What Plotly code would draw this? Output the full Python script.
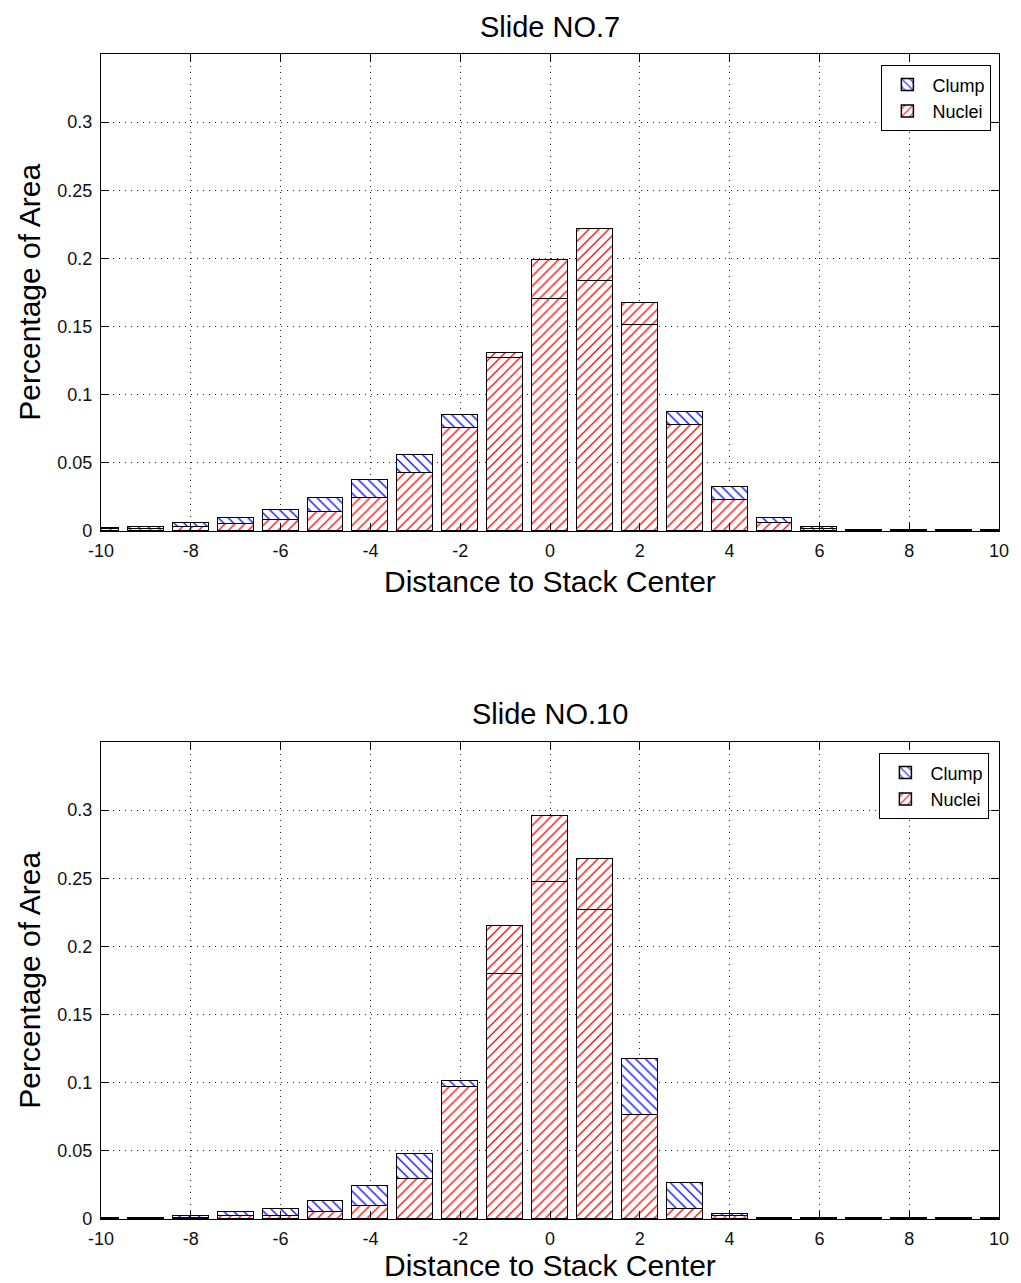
import plotly.graph_objects as go

# Distance bins (stack positions)
distance = list(range(-10, 11))

# Slide NO.7 — area fractions per bin
nuclei_7 = [0.0012, 0.0018, 0.0027, 0.0049, 0.0080, 0.0141, 0.0239, 0.0429, 0.0756, 0.1270,
            0.1705, 0.1837, 0.1510, 0.0776, 0.0224, 0.0061, 0.0018, 0.0004, 0.0003, 0.0003, 0.0002]
clump_7 = [0.0012, 0.0014, 0.0034, 0.0046, 0.0074, 0.0098, 0.0134, 0.0132, 0.0095, 0.0037,
           0.0285, 0.0380, 0.0166, 0.0100, 0.0098, 0.0034, 0.0014, 0.0004, 0.0003, 0.0003, 0.0003]

# Slide NO.10 — area fractions per bin
nuclei_10 = [0.0003, 0.0004, 0.0010, 0.0020, 0.0024, 0.0051, 0.0095, 0.0290, 0.0970, 0.1800,
             0.2473, 0.2268, 0.0766, 0.0071, 0.0020, 0.0003, 0.0003, 0.0003, 0.0003, 0.0003, 0.0003]
clump_10 = [0.0002, 0.0003, 0.0012, 0.0031, 0.0049, 0.0081, 0.0146, 0.0190, 0.0040, 0.0349,
            0.0481, 0.0376, 0.0410, 0.0190, 0.0017, 0.0002, 0.0002, 0.0002, 0.0002, 0.0002, 0.0002]

# Bins whose upper segment is rendered with the nuclei hatch
nuclei_hatched_top_7 = [-1, 0, 1, 2]
nuclei_hatched_top_10 = [-1, 0, 1]

x_ticks = list(range(-10, 11, 2))
x_tick_text = [str(v) for v in x_ticks]  # plain hyphen minus signs
y_ticks = [0, 0.05, 0.1, 0.15, 0.2, 0.25, 0.3]
y_tick_text = ["0", "0.05", "0.1", "0.15", "0.2", "0.25", "0.3"]

RED = "#ff0000"
BLUE = "#0000ff"
FONT = "Liberation Sans, Arial, sans-serif"

W, H = 1021, 1283
L, R, T, B = 101, 13, 54, 64
PH = H - T - B  # plot-area height in px


def py(p):
    return (H - B - p) / PH


def px(q):
    return (q - L) / (W - L - R)


HATCH_SIZE = 7
HATCH_SOLIDITY = 0.18

fig = go.Figure()

panels = [
    (nuclei_7, clump_7, nuclei_hatched_top_7, "x", "y", "legend"),
    (nuclei_10, clump_10, nuclei_hatched_top_10, "x2", "y2", "legend2"),
]

for nuc, clu, red_top, xa, ya, lg in panels:
    top_shapes = ["/" if d in red_top else "\\" for d in distance]
    top_colors = [RED if d in red_top else BLUE for d in distance]
    fig.add_trace(go.Bar(
        x=distance, y=nuc, name="Nuclei", width=0.8,
        marker=dict(color="white", line=dict(color="black", width=1.5),
                    pattern=dict(shape="/", fgcolor=RED, bgcolor="white", fgopacity=1,
                                 size=HATCH_SIZE, solidity=HATCH_SOLIDITY)),
        xaxis=xa, yaxis=ya, legend=lg,
    ))
    fig.add_trace(go.Bar(
        x=distance, y=clu, name="Clump", width=0.8,
        marker=dict(color="white", line=dict(color="black", width=1.5),
                    pattern=dict(shape=top_shapes, fgcolor=top_colors, bgcolor="white",
                                 fgopacity=1, size=HATCH_SIZE, solidity=HATCH_SOLIDITY)),
        xaxis=xa, yaxis=ya, legend=lg,
    ))

axis_common = dict(
    showline=True, linecolor="black", linewidth=1.3, mirror="ticks",
    ticks="inside", ticklen=8, tickcolor="black", tickwidth=1.3,
    showgrid=True, gridcolor="#222222", griddash="1px,5px", gridwidth=1.2,
    zeroline=False, tickfont=dict(family=FONT, size=18, color="#111111"),
)

top_dom = [py(531), 1.0]
bot_dom = [0.0, py(742)]

legend_common = dict(xanchor="right", yanchor="top", bgcolor="white",
                     bordercolor="black", borderwidth=1.3, traceorder="reversed",
                     font=dict(family=FONT, size=18, color="black"), itemwidth=40)

fig.update_layout(
    width=W, height=H,
    margin=dict(l=L, r=R, t=T, b=B),
    paper_bgcolor="white", plot_bgcolor="white",
    barmode="stack", bargap=0,
    showlegend=True,
    xaxis=dict(domain=[0, 1], range=[-10, 10], tickvals=x_ticks, ticktext=x_tick_text,
               anchor="y", ticklabelstandoff=3, **axis_common),
    yaxis=dict(domain=top_dom, range=[0, 0.35], tickvals=y_ticks, ticktext=y_tick_text,
               anchor="x", ticklabelstandoff=4, **axis_common),
    xaxis2=dict(domain=[0, 1], range=[-10, 10], tickvals=x_ticks, ticktext=x_tick_text,
                anchor="y2", ticklabelstandoff=3, **axis_common),
    yaxis2=dict(domain=bot_dom, range=[0, 0.35], tickvals=y_ticks, ticktext=y_tick_text,
                anchor="x2", ticklabelstandoff=4, **axis_common),
    legend=dict(x=px(1000), y=py(65), **legend_common),
    legend2=dict(x=px(998), y=py(753), **legend_common),
)

title_font = dict(family=FONT, size=29, color="black")
label_font = dict(family=FONT, size=30, color="black")
annotations = [
    dict(text="Slide NO.7", x=0.5, y=py(27), font=title_font),
    dict(text="Slide NO.10", x=0.5, y=py(714), font=title_font),
    dict(text="Distance to Stack Center", x=0.5, y=py(581), font=label_font),
    dict(text="Distance to Stack Center", x=0.5, y=py(1265), font=label_font),
    dict(text="Percentage of Area", x=px(28), y=py(292), textangle=-90, font=label_font),
    dict(text="Percentage of Area", x=px(28), y=py(980), textangle=-90, font=label_font),
]
for a in annotations:
    a.update(xref="paper", yref="paper", showarrow=False,
             xanchor="center", yanchor="middle")
fig.update_layout(annotations=annotations)

fig.write_html("out.html")
